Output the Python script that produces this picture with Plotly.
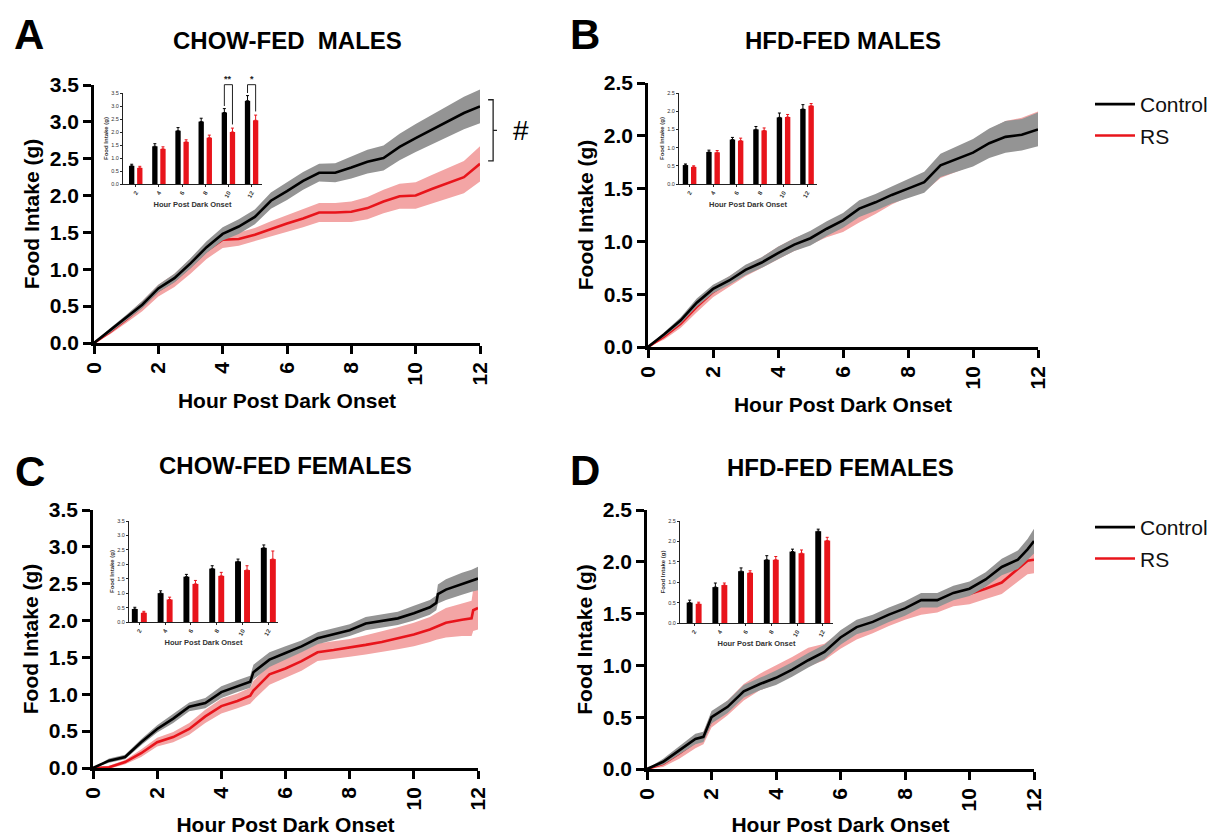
import plotly.graph_objects as go

# ---------------- DATA ----------------
# Panel A: chow-fed males (cumulative food intake, g)
hours_A = [0, 0.5, 1, 1.5, 2, 2.5, 3, 3.5, 4, 4.5, 5, 5.5, 6, 6.5, 7, 7.5, 8, 8.5, 9, 9.5, 10, 10.5, 11, 11.5, 12]
ctrl_A = [0, 0.17, 0.34, 0.52, 0.74, 0.88, 1.08, 1.30, 1.48, 1.58, 1.71, 1.93, 2.06, 2.20, 2.31, 2.31, 2.38, 2.46, 2.51, 2.66, 2.78, 2.89, 3.01, 3.12, 3.21]
ctrl_sem_A = [0, 0.03, 0.04, 0.05, 0.05, 0.06, 0.07, 0.08, 0.09, 0.10, 0.10, 0.11, 0.12, 0.12, 0.12, 0.13, 0.15, 0.16, 0.17, 0.18, 0.19, 0.20, 0.21, 0.22, 0.23]
rs_A = [0, 0.15, 0.32, 0.50, 0.71, 0.85, 1.04, 1.25, 1.40, 1.41, 1.47, 1.55, 1.62, 1.69, 1.77, 1.77, 1.78, 1.83, 1.92, 1.99, 2.00, 2.09, 2.17, 2.25, 2.43]
rs_sem_A = [0, 0.03, 0.05, 0.07, 0.08, 0.09, 0.10, 0.11, 0.11, 0.09, 0.09, 0.10, 0.11, 0.12, 0.13, 0.13, 0.14, 0.15, 0.16, 0.17, 0.18, 0.19, 0.21, 0.22, 0.24]

# Panel B: HFD-fed males
hours_B = [0, 0.5, 1, 1.5, 2, 2.5, 3, 3.5, 4, 4.5, 5, 5.5, 6, 6.5, 7, 7.5, 8, 8.5, 9, 9.5, 10, 10.5, 11, 11.5, 12]
ctrl_B = [0, 0.12, 0.25, 0.42, 0.55, 0.63, 0.73, 0.80, 0.89, 0.97, 1.03, 1.12, 1.20, 1.31, 1.37, 1.44, 1.50, 1.56, 1.72, 1.78, 1.84, 1.93, 1.99, 2.01, 2.06]
ctrl_sem_B = [0, 0.02, 0.03, 0.04, 0.04, 0.04, 0.05, 0.05, 0.06, 0.06, 0.07, 0.07, 0.07, 0.08, 0.08, 0.08, 0.09, 0.10, 0.11, 0.12, 0.13, 0.14, 0.15, 0.15, 0.16]
rs_B = [0, 0.10, 0.22, 0.38, 0.52, 0.62, 0.72, 0.80, 0.89, 0.97, 1.03, 1.10, 1.16, 1.25, 1.33, 1.42, 1.50, 1.56, 1.70, 1.77, 1.84, 1.93, 2.00, 2.03, 2.08]
rs_sem_B = [0, 0.03, 0.04, 0.05, 0.05, 0.05, 0.05, 0.05, 0.06, 0.06, 0.06, 0.06, 0.07, 0.07, 0.07, 0.07, 0.08, 0.09, 0.10, 0.11, 0.12, 0.13, 0.14, 0.14, 0.15]

# Panel C: chow-fed females
hours_C = [0, 0.5, 1, 1.5, 2, 2.5, 3, 3.5, 4, 4.5, 4.9, 5, 5.5, 6, 6.5, 7, 7.5, 8, 8.5, 9, 9.5, 10, 10.5, 10.7, 10.75, 11, 11.5, 11.8, 11.85, 12]
ctrl_C = [0, 0.10, 0.15, 0.35, 0.53, 0.67, 0.83, 0.88, 1.03, 1.11, 1.17, 1.30, 1.47, 1.56, 1.65, 1.76, 1.82, 1.87, 1.96, 2.00, 2.03, 2.10, 2.18, 2.24, 2.36, 2.42, 2.50, 2.54, 2.55, 2.57]
ctrl_sem_C = [0, 0.03, 0.03, 0.04, 0.05, 0.06, 0.06, 0.07, 0.08, 0.08, 0.08, 0.10, 0.10, 0.09, 0.08, 0.08, 0.08, 0.08, 0.09, 0.09, 0.09, 0.10, 0.10, 0.10, 0.13, 0.14, 0.15, 0.15, 0.15, 0.16]
rs_C = [0, 0.01, 0.08, 0.20, 0.35, 0.42, 0.53, 0.70, 0.84, 0.91, 0.98, 1.05, 1.27, 1.35, 1.45, 1.57, 1.60, 1.63, 1.67, 1.71, 1.76, 1.81, 1.88, 1.92, 1.93, 1.97, 2.01, 2.03, 2.14, 2.17]
rs_sem_C = [0, 0.02, 0.03, 0.05, 0.06, 0.07, 0.08, 0.09, 0.10, 0.10, 0.11, 0.13, 0.14, 0.13, 0.13, 0.12, 0.12, 0.12, 0.13, 0.14, 0.15, 0.16, 0.17, 0.18, 0.18, 0.20, 0.22, 0.24, 0.28, 0.29]

# Panel D: HFD-fed females
hours_D = [0, 0.5, 1, 1.5, 1.75, 2, 2.5, 3, 3.5, 4, 4.5, 5, 5.5, 6, 6.5, 7, 7.5, 8, 8.5, 9, 9.5, 10, 10.5, 11, 11.5, 11.8, 12]
ctrl_D = [0, 0.07, 0.18, 0.29, 0.31, 0.50, 0.60, 0.75, 0.82, 0.88, 0.96, 1.05, 1.13, 1.27, 1.37, 1.42, 1.49, 1.55, 1.63, 1.63, 1.70, 1.74, 1.83, 1.95, 2.02, 2.12, 2.20]
ctrl_sem_D = [0, 0.03, 0.04, 0.05, 0.05, 0.06, 0.06, 0.06, 0.06, 0.07, 0.07, 0.07, 0.07, 0.07, 0.07, 0.07, 0.07, 0.07, 0.07, 0.07, 0.07, 0.07, 0.07, 0.08, 0.09, 0.10, 0.12]
rs_D = [0, 0.05, 0.15, 0.26, 0.30, 0.47, 0.59, 0.74, 0.84, 0.91, 0.99, 1.08, 1.13, 1.24, 1.33, 1.39, 1.46, 1.52, 1.58, 1.60, 1.66, 1.69, 1.74, 1.80, 1.93, 2.01, 2.02]
rs_sem_D = [0, 0.03, 0.05, 0.06, 0.06, 0.07, 0.07, 0.08, 0.08, 0.09, 0.09, 0.09, 0.08, 0.08, 0.08, 0.08, 0.08, 0.08, 0.09, 0.09, 0.09, 0.10, 0.10, 0.11, 0.12, 0.13, 0.13]

# Inset bar charts (2-h bins)
bar_hours = [2, 4, 6, 8, 10, 12]
bar_labels = ["2", "4", "6", "8", "10", "12"]
barA_ctrl = [0.70, 1.45, 2.05, 2.40, 2.75, 3.20]
barA_ctrl_err = [0.06, 0.10, 0.12, 0.13, 0.15, 0.20]
barA_rs = [0.62, 1.35, 1.62, 1.78, 2.00, 2.45]
barA_rs_err = [0.06, 0.08, 0.08, 0.10, 0.15, 0.20]
barB_ctrl = [0.52, 0.88, 1.22, 1.50, 1.83, 2.06]
barB_ctrl_err = [0.03, 0.05, 0.06, 0.08, 0.12, 0.12]
barB_rs = [0.47, 0.87, 1.19, 1.47, 1.84, 2.15]
barB_rs_err = [0.03, 0.05, 0.07, 0.07, 0.07, 0.06]
barC_ctrl = [0.45, 1.00, 1.57, 1.85, 2.10, 2.57]
barC_ctrl_err = [0.06, 0.08, 0.08, 0.10, 0.08, 0.10]
barC_rs = [0.32, 0.78, 1.32, 1.60, 1.80, 2.18]
barC_rs_err = [0.05, 0.08, 0.12, 0.12, 0.15, 0.28]
barD_ctrl = [0.50, 0.88, 1.27, 1.55, 1.75, 2.25]
barD_ctrl_err = [0.06, 0.10, 0.08, 0.10, 0.06, 0.05]
barD_rs = [0.47, 0.93, 1.23, 1.55, 1.71, 2.02]
barD_rs_err = [0.04, 0.05, 0.05, 0.08, 0.08, 0.08]
sigA_hours = [10, 12]
sigA_labels = ["**", "*"]

series_names = ["Control", "RS"]
panel_titles = ["CHOW-FED\u00a0 MALES", "HFD-FED MALES", "CHOW-FED FEMALES", "HFD-FED FEMALES"]
panel_letters = ["A", "B", "C", "D"]

# ---------------- STYLE / LAYOUT ----------------
W, H = 1213, 836
FONT = "Liberation Sans, Arial, Helvetica, sans-serif"
BLACK = "#000000"
RED = "#e8141b"
GREY_BAND = "rgb(148,148,148)"
PINK_BAND = "rgb(243,165,165)"
BAR_W = 0.46
BAR_OFF_C = -0.58
BAR_OFF_R = 0.12


def px_x(a, b):
    return [a / W, b / W]


def px_y(top, bottom):
    return [1 - bottom / H, 1 - top / H]


panels = [
    dict(hours=hours_A, ctrl=ctrl_A, cs=ctrl_sem_A, rs=rs_A, rss=rs_sem_A, ymax=3.5,
         xd=px_x(94, 480), yd=px_y(85, 343),
         bc=barA_ctrl, bce=barA_ctrl_err, br=barA_rs, bre=barA_rs_err,
         ixd=px_x(123, 262), iyd=px_y(93, 184), ixr=[0.9, 12.9],
         letter_xy=(12, 35), title_xy=(287, 41), legend=None),
    dict(hours=hours_B, ctrl=ctrl_B, cs=ctrl_sem_B, rs=rs_B, rss=rs_sem_B, ymax=2.5,
         xd=px_x(648, 1038), yd=px_y(83, 347),
         bc=barB_ctrl, bce=barB_ctrl_err, br=barB_rs, bre=barB_rs_err,
         ixd=px_x(679, 817), iyd=px_y(93, 184), ixr=[1.1, 12.85],
         letter_xy=(568, 35), title_xy=(843, 41), legend="legend"),
    dict(hours=hours_C, ctrl=ctrl_C, cs=ctrl_sem_C, rs=rs_C, rss=rs_sem_C, ymax=3.5,
         xd=px_x(93, 478), yd=px_y(510, 768),
         bc=barC_ctrl, bce=barC_ctrl_err, br=barC_rs, bre=barC_rs_err,
         ixd=px_x(129, 278), iyd=px_y(521, 622), ixr=[1.2, 12.75],
         letter_xy=(13, 471), title_xy=(285, 465), legend=None),
    dict(hours=hours_D, ctrl=ctrl_D, cs=ctrl_sem_D, rs=rs_D, rss=rs_sem_D, ymax=2.5,
         xd=px_x(647, 1034), yd=px_y(510, 769),
         bc=barD_ctrl, bce=barD_ctrl_err, br=barD_rs, bre=barD_rs_err,
         ixd=px_x(680, 833), iyd=px_y(521, 623), ixr=[0.9, 12.8],
         letter_xy=(568, 470), title_xy=(840, 467), legend="legend2"),
]

fig = go.Figure()
layout = dict(
    width=W, height=H, margin=dict(l=0, r=0, t=0, b=0, pad=0, autoexpand=False),
    paper_bgcolor="white", plot_bgcolor="rgba(0,0,0,0)",
    font=dict(family=FONT, color=BLACK),
    barmode="overlay",
    annotations=[], shapes=[],
)


def band(x, y, s):
    up = [a + b for a, b in zip(y, s)]
    lo = [a - b for a, b in zip(y, s)]
    return list(x) + list(x)[::-1], up + lo[::-1]


for i, p in enumerate(panels):
    n_main = i + 1
    n_in = i + 5
    xm = "x" if n_main == 1 else f"x{n_main}"
    ym = "y" if n_main == 1 else f"y{n_main}"
    xi, yi = f"x{n_in}", f"y{n_in}"

    # --- main curves: RS band, RS line, Control band, Control line ---
    bx, by = band(p["hours"], p["rs"], p["rss"])
    fig.add_trace(go.Scatter(x=bx, y=by, xaxis=xm, yaxis=ym, fill="toself", fillcolor=PINK_BAND,
                             line=dict(width=0), mode="lines", showlegend=False, hoverinfo="skip"))
    fig.add_trace(go.Scatter(x=p["hours"], y=p["rs"], xaxis=xm, yaxis=ym, mode="lines",
                             line=dict(color=RED, width=2.6), name=series_names[1],
                             showlegend=p["legend"] is not None, legend=p["legend"] or "legend",
                             legendgroup=f"rs{i}", legendrank=2))
    bx, by = band(p["hours"], p["ctrl"], p["cs"])
    fig.add_trace(go.Scatter(x=bx, y=by, xaxis=xm, yaxis=ym, fill="toself", fillcolor=GREY_BAND,
                             line=dict(width=0), mode="lines", showlegend=False, hoverinfo="skip"))
    fig.add_trace(go.Scatter(x=p["hours"], y=p["ctrl"], xaxis=xm, yaxis=ym, mode="lines",
                             line=dict(color=BLACK, width=2.6), name=series_names[0],
                             showlegend=p["legend"] is not None, legend=p["legend"] or "legend",
                             legendgroup=f"ctrl{i}", legendrank=1))

    # --- inset bars ---
    fig.add_trace(go.Bar(x=bar_hours, y=p["bc"], xaxis=xi, yaxis=yi, width=BAR_W, offset=BAR_OFF_C,
                         marker=dict(color=BLACK, line=dict(width=0)), showlegend=False,
                         error_y=dict(type="data", array=p["bce"], arrayminus=[0] * 6, symmetric=False,
                                      color=BLACK, thickness=1, width=1.5)))
    fig.add_trace(go.Bar(x=bar_hours, y=p["br"], xaxis=xi, yaxis=yi, width=BAR_W, offset=BAR_OFF_R,
                         marker=dict(color=RED, line=dict(width=0)), showlegend=False,
                         error_y=dict(type="data", array=p["bre"], arrayminus=[0] * 6, symmetric=False,
                                      color=RED, thickness=1, width=1.5)))

    # --- main axes ---
    key_x = "xaxis" if n_main == 1 else f"xaxis{n_main}"
    key_y = "yaxis" if n_main == 1 else f"yaxis{n_main}"
    layout[key_x] = dict(
        domain=p["xd"], anchor=ym, range=[0, 12], tickmode="linear", tick0=0, dtick=2,
        showline=True, linecolor=BLACK, linewidth=2.5, ticks="outside", ticklen=8, tickwidth=2.5,
        tickcolor=BLACK, showgrid=False, zeroline=False, tickangle=-90, automargin=False,
        tickfont=dict(size=21, weight="bold", family=FONT, color=BLACK),
        title=dict(text="Hour Post Dark Onset", standoff=9,
                   font=dict(size=21, weight="bold", family=FONT, color=BLACK)),
    )
    layout[key_y] = dict(
        domain=p["yd"], anchor=xm, range=[0, p["ymax"]], tickmode="linear", tick0=0, dtick=0.5,
        tickformat=".1f", showline=True, linecolor=BLACK, linewidth=2.5, ticks="outside",
        ticklen=8, tickwidth=2.5, tickcolor=BLACK, showgrid=False, zeroline=False, automargin=False,
        tickfont=dict(size=21, weight="bold", family=FONT, color=BLACK),
        title=dict(text="Food Intake (g)", standoff=5,
                   font=dict(size=21, weight="bold", family=FONT, color=BLACK)),
    )
    # --- inset axes ---
    layout[f"xaxis{n_in}"] = dict(
        domain=p["ixd"], anchor=yi, range=p["ixr"], tickmode="array", tickvals=bar_hours,
        ticktext=bar_labels, tickangle=-60, showline=True, linecolor="#222", linewidth=1,
        ticks="outside", ticklen=2, tickwidth=1, tickcolor="#222", showgrid=False, zeroline=False,
        automargin=False,
        tickfont=dict(size=6, weight="bold", family=FONT, color="#333"),
        title=dict(text="Hour Post Dark Onset", standoff=3,
                   font=dict(size=7.5, weight="bold", family=FONT, color="#333")),
    )
    layout[f"yaxis{n_in}"] = dict(
        domain=p["iyd"], anchor=xi, range=[0, p["ymax"]], tickmode="linear", tick0=0, dtick=0.5,
        tickformat=".1f", showline=True, linecolor="#222", linewidth=1, ticks="outside",
        ticklen=2, tickwidth=1, tickcolor="#222", showgrid=False, zeroline=False, automargin=False,
        tickfont=dict(size=5.5, family=FONT, color="#333"),
        title=dict(text="Food Intake (g)", standoff=2,
                   font=dict(size=6, weight="bold", family=FONT, color="#333")),
    )

    # --- panel letter and title ---
    lx, ly = p["letter_xy"]
    layout["annotations"].append(dict(
        text=panel_letters[i], xref="paper", yref="paper", x=lx / W, y=1 - ly / H,
        xanchor="left", yanchor="middle", showarrow=False,
        font=dict(size=42, weight="bold", family=FONT, color=BLACK)))
    tx, ty = p["title_xy"]
    layout["annotations"].append(dict(
        text=panel_titles[i], xref="paper", yref="paper", x=tx / W, y=1 - ty / H,
        xanchor="center", yanchor="middle", showarrow=False,
        font=dict(size=24, weight="bold", family=FONT, color=BLACK)))

# --- significance brackets in inset A ---
SIG_TOP = 3.82
for h, lab in zip(sigA_hours, sigA_labels):
    k = bar_hours.index(h)
    xl = h + BAR_OFF_C + BAR_W / 2
    xr = h + BAR_OFF_R + BAR_W / 2
    yl = (barA_ctrl[k] + barA_ctrl_err[k] + 0.1) / 3.5
    yr = (barA_rs[k] + barA_rs_err[k] + 0.14) / 3.5
    yt = SIG_TOP / 3.5
    layout["shapes"].append(dict(
        type="path", xref="x5", yref="y5 domain",
        path=f"M {xl},{yl} L {xl},{yt} L {xr},{yt} L {xr},{yr}",
        line=dict(color="#222", width=1)))
    layout["annotations"].append(dict(
        text=lab, xref="x5 domain", yref="y5 domain",
        x=((xl + xr) / 2 - 0.9) / (12.9 - 0.9), y=yt, xanchor="center",
        yanchor="bottom", showarrow=False, yshift=-1,
        font=dict(size=9, weight="bold", family=FONT, color="#222")))

# --- '#' bracket to the right of panel A ---
b_top = ctrl_A[-1] + 0.09
b_bot = rs_A[-1] + 0.04
b_mid = (b_top + b_bot) / 2
layout["shapes"].append(dict(
    type="path", xref="x domain", yref="y",
    path=f"M 1.021,{b_top} L 1.034,{b_top} L 1.034,{b_bot} L 1.021,{b_bot} M 1.034,{b_mid} L 1.044,{b_mid}",
    line=dict(color="#222", width=1.3)))
layout["annotations"].append(dict(
    text="#", xref="x domain", yref="y", x=1.106, y=b_mid, xanchor="center", yanchor="middle",
    showarrow=False, font=dict(size=28, family=FONT, color=BLACK)))

# --- legends (next to B and D) ---
leg_common = dict(xanchor="right", yanchor="top", bgcolor="rgba(0,0,0,0)",
                  font=dict(size=21, family=FONT, color="#111"), traceorder="grouped",
                  tracegroupgap=1, itemwidth=40, borderwidth=0)
layout["legend"] = dict(x=1.0, y=1 - 84 / H, **leg_common)
layout["legend2"] = dict(x=1.0, y=1 - 507 / H, **leg_common)

fig.update_layout(**layout)
fig.write_html("out.html")
